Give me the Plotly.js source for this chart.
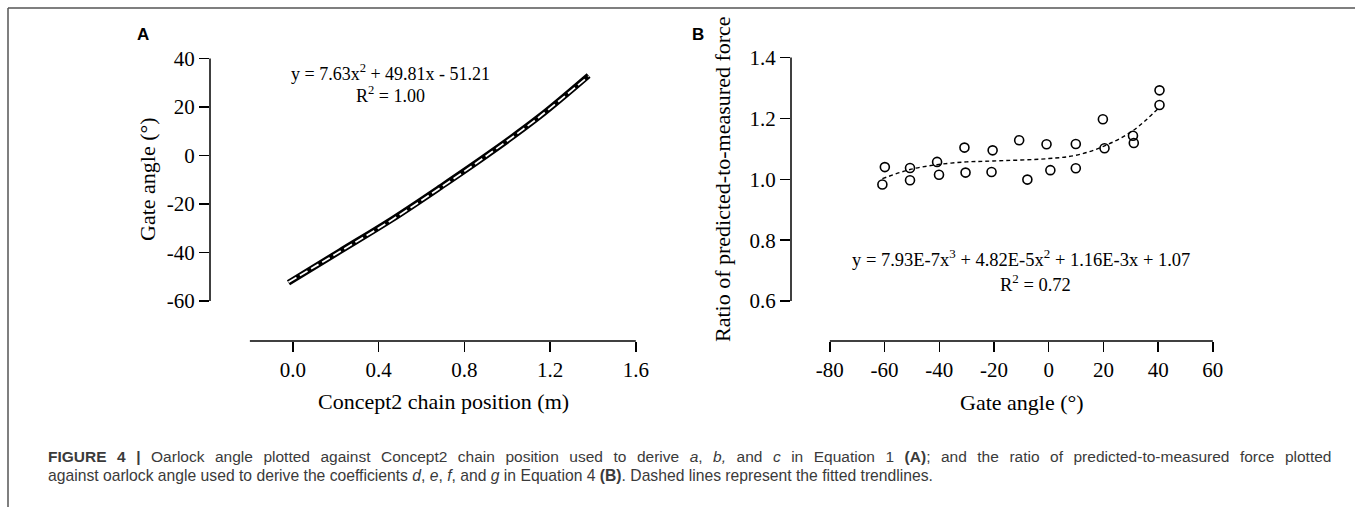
<!DOCTYPE html>
<html>
<head>
<meta charset="utf-8">
<script src="https://cdn.plot.ly/plotly-3.0.1.min.js"></script>
<style>html,body{margin:0;padding:0;background:#fff;}#chart{width:1355px;height:507px;}</style>
</head>
<body>
<div id="chart"></div>
<script>
// Panel A: gate angle vs Concept2 chain position (dense measured trace)
var chainPos = [-0.02, 0.22, 0.46, 0.69, 0.92, 1.15, 1.38];
var gateAngleA = [-52.5, -39.5, -26.5, -13, 1, 16, 33];
// Panel A fitted trendline
var fitAx = [-0.02, 0.22, 0.46, 0.69, 0.92, 1.15, 1.38];
var fitAy = [-52.3, -39.6, -26.7, -13.2, 0.9, 15.9, 32.7];

// Panel B: ratio of predicted-to-measured force vs gate angle
var gateAngleB = [-60.8, -59.9, -50.7, -50.7, -40.8, -40.1, -30.8, -30.4, -20.5, -20.9, -10.8, -7.8, -0.8, 0.6, 9.9, 9.9, 19.8, 20.4, 30.8, 31.1, 40.5, 40.5];
var ratioB = [0.983, 1.040, 1.037, 0.997, 1.057, 1.015, 1.104, 1.022, 1.095, 1.024, 1.128, 0.999, 1.115, 1.030, 1.116, 1.036, 1.197, 1.102, 1.143, 1.119, 1.292, 1.244];
// Panel B fitted cubic trendline
var fitBx = [-60.8, -50.7, -40.8, -30, -20.3, 0, 10, 20, 31, 40.5];
var fitBy = [1.002, 1.032, 1.048, 1.057, 1.060, 1.068, 1.079, 1.108, 1.161, 1.237];

// Tick labels
var tickA_x = [0, 0.4, 0.8, 1.2, 1.6];
var tickA_xt = ["0.0", "0.4", "0.8", "1.2", "1.6"];
var tickA_y = [-60, -40, -20, 0, 20, 40];
var tickA_yt = ["-60", "-40", "-20", "0", "20", "40"];
var tickB_x = [-80, -60, -40, -20, 0, 20, 40, 60];
var tickB_xt = ["-80", "-60", "-40", "-20", "0", "20", "40", "60"];
var tickB_y = [0.6, 0.8, 1.0, 1.2, 1.4];
var tickB_yt = ["0.6", "0.8", "1.0", "1.2", "1.4"];

var serif = "Liberation Serif, Times New Roman, serif";
var sans = "Liberation Sans, Arial, sans-serif";
var W = 1355, H = 507;
function px(x){return x / W;}
function py(y){return 1 - y / H;}

var traces = [
  {x: chainPos, y: gateAngleA, mode: "lines", line: {color: "#000", width: 6, shape: "spline"}, xaxis: "x", yaxis: "y", hoverinfo: "skip"},
  {x: fitAx, y: fitAy, mode: "lines", line: {color: "#fff", width: 1.8, dash: "9px,4px", shape: "spline"}, xaxis: "x", yaxis: "y", hoverinfo: "skip"},
  {x: fitBx, y: fitBy, mode: "lines", line: {color: "#000", width: 1.4, dash: "4px,3px", shape: "spline"}, xaxis: "x2", yaxis: "y2", hoverinfo: "skip"},
  {x: gateAngleB, y: ratioB, mode: "markers", marker: {symbol: "circle-open", size: 9, color: "#000", line: {width: 1.6, color: "#000"}}, xaxis: "x2", yaxis: "y2"}
];

function axisBase(){
  return {showline: false, zeroline: false, showgrid: false, ticks: "outside", ticklen: 10, tickwidth: 1.5, tickcolor: "#000",
    tickmode: "array", tickfont: {family: serif, size: 21, color: "#000"}, fixedrange: true};
}
var xa = axisBase(); xa.domain = [px(210), px(636)]; xa.range = [-0.386, 1.601]; xa.tickvals = tickA_x; xa.ticktext = tickA_xt; xa.anchor = "y";
var ya = axisBase(); ya.domain = [py(341), py(58)]; ya.range = [-76.5, 40.2]; ya.tickvals = tickA_y; ya.ticktext = tickA_yt; ya.anchor = "x";
var xb = axisBase(); xb.domain = [px(791), px(1213)]; xb.range = [-94.2, 60.05]; xb.tickvals = tickB_x; xb.ticktext = tickB_xt; xb.anchor = "y2";
var yb = axisBase(); yb.domain = [py(341), py(57)]; yb.range = [0.469, 1.4015]; yb.tickvals = tickB_y; yb.ticktext = tickB_yt; yb.anchor = "x2";

var axisLine = {color: "#000", width: 1.5};
var shapes = [
  {type: "line", xref: "x domain", yref: "y", x0: 0, x1: 0, y0: -60, y1: 40, line: axisLine},
  {type: "line", xref: "x", yref: "y domain", x0: -0.2, x1: 1.6, y0: 0, y1: 0, line: axisLine},
  {type: "line", xref: "x2 domain", yref: "y2", x0: 0, x1: 0, y0: 0.6, y1: 1.4, line: axisLine},
  {type: "line", xref: "x2", yref: "y2 domain", x0: -80, x1: 60, y0: 0, y1: 0, line: axisLine},
  // figure border (top and left)
  {type: "line", xref: "paper", yref: "paper", x0: px(8), x1: 1, y0: py(8), y1: py(8), line: {color: "#555", width: 1.5}},
  {type: "line", xref: "paper", yref: "paper", x0: px(8), x1: px(8), y0: py(8), y1: 0, line: {color: "#555", width: 1.5}}
];

function ann(text, x, y, size, family, extra){
  var a = {text: text, x: px(x), y: py(y), xref: "paper", yref: "paper", xanchor: "center", yanchor: "middle", showarrow: false,
    font: {family: family, size: size, color: "#000"}};
  if (extra) for (var k in extra) a[k] = extra[k];
  return a;
}
// justified first caption line: widen word gaps
var gap = " \u2009\u2009";
var cap1Words = ["<b>FIGURE", "4", "|</b>", "Oarlock", "angle", "plotted", "against", "Concept2", "chain", "position", "used", "to", "derive",
  "<i>a</i>,", "<i>b,</i>", "and", "<i>c</i>", "in", "Equation", "1", "<b>(A)</b>;", "and", "the", "ratio", "of", "predicted-to-measured", "force", "plotted"];
var cap1 = cap1Words.join(gap);
var cap2 = "against oarlock angle used to derive the coefficients <i>d</i>, <i>e</i>, <i>f</i>, and <i>g</i> in Equation 4 <b>(B)</b>. Dashed lines represent the fitted trendlines.";
var capColor = "#3a3a3a";

var annotations = [
  ann("<b>A</b>", 143, 34, 17, sans),
  ann("<b>B</b>", 698, 34, 17, sans),
  ann("y = 7.63x<sup>2</sup> + 49.81x - 51.21", 390, 72, 18, serif),
  ann("R<sup>2</sup> = 1.00", 391, 94, 18, serif),
  ann("y = 7.93E-7x<sup>3</sup> + 4.82E-5x<sup>2</sup> + 1.16E-3x + 1.07", 1021, 258, 18.5, serif),
  ann("R<sup>2</sup> = 0.72", 1035, 283, 18.5, serif),
  ann("Concept2 chain position (m)", 443, 401, 22, serif),
  ann("Gate angle (°)", 1022, 402, 22, serif),
  ann("Gate angle (°)", 147, 179, 22, serif, {textangle: -90}),
  ann("Ratio of predicted-to-measured force", 722, 179, 22, serif, {textangle: -90}),
  ann(cap1, 46, 456, 15.5, sans, {xanchor: "left", font: {family: sans, size: 15.5, color: capColor}}),
  ann(cap2, 46, 475, 15.7, sans, {xanchor: "left", font: {family: sans, size: 15.7, color: capColor}})
];

var layout = {
  width: W, height: H, margin: {l: 0, r: 0, t: 0, b: 0}, paper_bgcolor: "#fff", plot_bgcolor: "rgba(0,0,0,0)",
  showlegend: false, xaxis: xa, yaxis: ya, xaxis2: xb, yaxis2: yb, shapes: shapes, annotations: annotations
};
Plotly.newPlot("chart", traces, layout, {displayModeBar: false, staticPlot: true});
</script>
</body>
</html>
